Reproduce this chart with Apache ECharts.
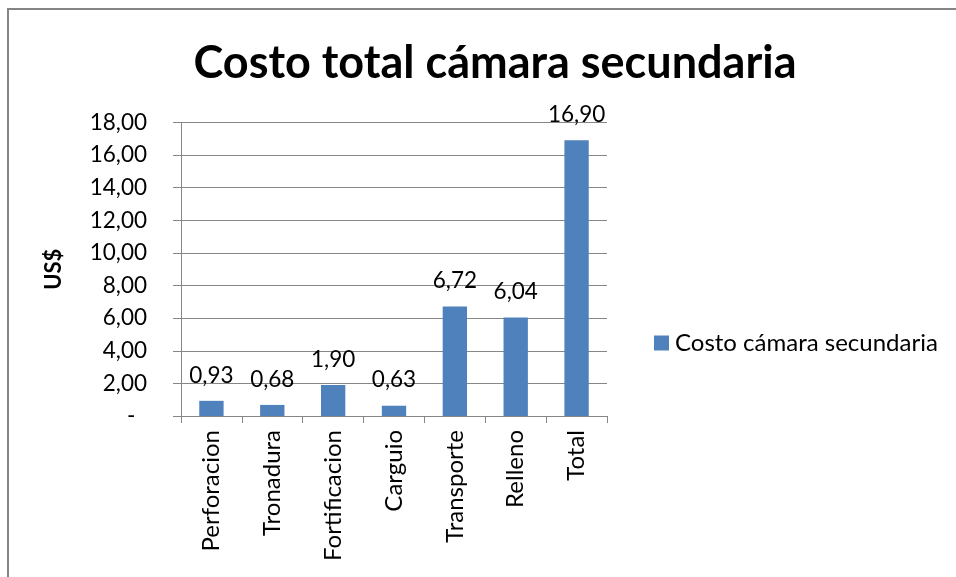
<!DOCTYPE html>
<html>
<head>
<meta charset="utf-8">
<script src="https://cdn.jsdelivr.net/npm/echarts@6/dist/echarts.min.js"></script>
<style>
  html, body { margin: 0; padding: 0; background: #fff; }
  #chart { width: 956px; height: 577px; }
</style>
</head>
<body>
<div id="chart"></div>
<script>
// Cost breakdown per activity (US$)
const categories = ['Perforacion', 'Tronadura', 'Fortificacion', 'Carguio', 'Transporte', 'Relleno', 'Total'];
const costValues = [0.93, 0.68, 1.90, 0.63, 6.72, 6.04, 16.90];
const seriesName = 'Costo cámara secundaria';
const chartTitle = 'Costo total cámara secundaria';
const yAxisName = 'US$';

const FONT = 'Lato, "Noto Sans", sans-serif';
const fmt = v => v === 0 ? '-  ' : v.toFixed(2).replace('.', ',');

const chart = echarts.init(document.getElementById('chart'), null, { renderer: 'canvas' });
chart.setOption({
  backgroundColor: '#fff',
  animation: false,
  graphic: [{
    type: 'rect',
    shape: { x: 8, y: 9, width: 1000, height: 700 },
    style: { fill: 'none', stroke: '#858585', lineWidth: 2 },
    silent: true
  }],
  title: {
    text: chartTitle,
    left: 490, top: 36, textAlign: 'center',
    textStyle: { fontFamily: FONT, fontWeight: 'bold', fontSize: 45, color: '#000' }
  },
  legend: {
    data: [seriesName],
    left: 649, top: 326,
    itemWidth: 15, itemHeight: 15, itemGap: 6,
    icon: 'rect',
    textStyle: { fontFamily: FONT, fontSize: 24, color: '#000', padding: [0, 0, 0, 1] }
  },
  grid: { left: 181, top: 122.4, right: 349, bottom: 161, containLabel: false },
  xAxis: {
    type: 'category',
    data: categories,
    axisLine: { lineStyle: { color: '#868686', width: 1 } },
    axisTick: { show: true, length: 7, lineStyle: { color: '#868686' } },
    axisLabel: { rotate: 90, margin: 14, fontFamily: FONT, fontSize: 24, color: '#000' }
  },
  yAxis: {
    type: 'value',
    min: 0, max: 18, interval: 2,
    name: yAxisName,
    nameLocation: 'middle',
    nameGap: 116,
    nameRotate: 90,
    nameTextStyle: { fontFamily: FONT, fontWeight: 'bold', fontSize: 22, color: '#000' },
    axisLine: { show: true, lineStyle: { color: '#868686', width: 1 } },
    axisTick: { show: true, length: 8, lineStyle: { color: '#868686' } },
    splitLine: { show: true, lineStyle: { color: '#868686', width: 1 } },
    axisLabel: { margin: 34, fontFamily: FONT, fontSize: 22.5, color: '#000', formatter: fmt }
  },
  series: [{
    name: seriesName,
    type: 'bar',
    data: costValues,
    barWidth: '40%',
    itemStyle: { color: '#4F81BD' },
    label: {
      show: true, position: 'top', distance: 14,
      fontFamily: FONT, fontSize: 22.5, color: '#000',
      formatter: p => fmt(p.value)
    }
  }]
});
</script>
</body>
</html>
